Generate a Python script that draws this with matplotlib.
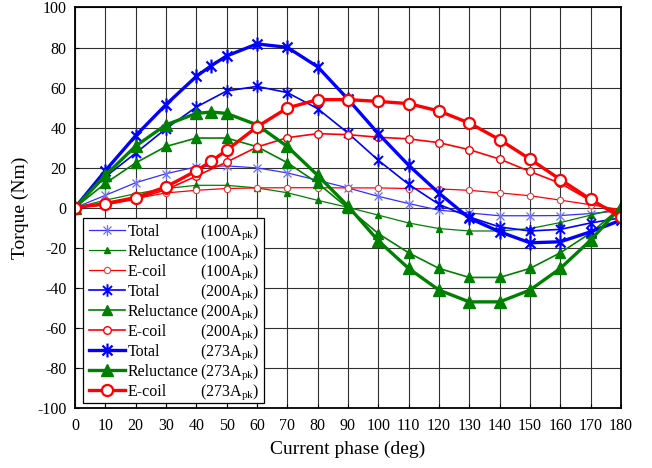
import matplotlib
matplotlib.use("Agg")
import matplotlib.pyplot as plt
from matplotlib.path import Path
from matplotlib.patches import Rectangle

plt.rcParams['font.family'] = ['Liberation Serif', 'DejaVu Serif']
plt.rcParams['mathtext.fontset'] = 'custom'
plt.rcParams['mathtext.rm'] = 'Liberation Serif'
plt.rcParams['mathtext.it'] = 'Liberation Serif:italic'
plt.rcParams['axes.unicode_minus'] = False

# current phase (deg)
phase = [0, 10, 20, 30, 40, 50, 60, 70, 80, 90, 100, 110, 120, 130, 140, 150, 160, 170, 180]
phase_273 = [0, 10, 20, 30, 40, 45, 50, 60, 70, 80, 90, 100, 110, 120, 130, 140, 150, 160, 170, 180]

# torque (Nm), 100 A peak
total_100 = [0, 6.2, 12.5, 17.0, 20.4, 20.9, 19.9, 17.4, 13.7, 9.9, 5.7, 2.1, -1.2, -2.6, -4.0, -4.0, -3.9, -2.9, -1.5]
rel_100 = [0, 3.8, 7.0, 9.6, 11.2, 11.2, 9.9, 7.5, 3.7, 0.2, -3.7, -7.6, -10.4, -11.6, -11.6, -10.4, -7.4, -3.7, 0]
ecoil_100 = [0, 1.5, 4.6, 7.4, 8.7, 9.6, 9.9, 10.0, 10.0, 9.9, 9.9, 9.6, 9.4, 8.7, 7.4, 6.0, 3.8, 1.5, -1.0]

# torque (Nm), 200 A peak
total_200 = [0, 15.4, 27.3, 39.5, 50.3, 58.3, 60.6, 57.5, 49.5, 37.3, 23.7, 11.7, 1.7, -4.6, -9.6, -11.6, -10.8, -7.6, -5.0]
rel_200 = [0, 12.2, 22.4, 30.6, 34.8, 34.8, 30.5, 22.5, 12.3, -0.2, -12.9, -22.5, -30.3, -34.8, -34.8, -30.3, -22.5, -12.6, 0.3]
ecoil_200 = [0, 1.5, 4.3, 9.0, 15.8, 22.8, 30.3, 35.0, 37.0, 36.5, 35.2, 34.4, 32.5, 29.0, 24.3, 18.1, 12.2, 3.5, -3.0]

# torque (Nm), 273 A peak
total_273 = [0, 18.5, 36.0, 51.5, 65.6, 71.0, 75.8, 81.8, 80.1, 70.4, 54.2, 37.0, 21.2, 7.3, -5.2, -12.0, -17.5, -17.0, -12.0, -6.2]
rel_273 = [0, 16.2, 30.8, 41.4, 47.1, 47.8, 47.1, 41.4, 30.6, 16.2, 0.8, -16.5, -30.3, -41.1, -47.0, -47.0, -41.1, -30.3, -16.2, 0.5]
ecoil_273 = [0, 2.1, 5.1, 10.4, 18.5, 23.3, 28.7, 40.4, 49.8, 54.0, 54.0, 53.1, 52.0, 48.3, 42.3, 34.0, 24.3, 14.1, 4.2, -4.8]

names = ['Total', 'Reluctance', 'E-coil'] * 3
currents = [r'(100A$_{\mathrm{pk}}$)'] * 3 + [r'(200A$_{\mathrm{pk}}$)'] * 3 + [r'(273A$_{\mathrm{pk}}$)'] * 3

# asterisk marker: vertical bar + X
ASTERISK = Path([(0, -1), (0, 1), (-0.72, -0.72), (0.72, 0.72), (-0.72, 0.72), (0.72, -0.72)],
                [Path.MOVETO, Path.LINETO] * 3)

BLUE, GREEN, RED = '#0000ff', '#008000', '#ff0000'
LEG_FS = 11.5

fig = plt.figure(figsize=(6.52, 4.68), dpi=100)
ax = fig.add_axes([0.1150, 0.1282, 0.8374, 0.8558])

series = [
    (phase, total_100, dict(color='#3030ff', lw=0.9, marker=ASTERISK, ms=8, mec='#7070f0', mew=0.9, mfc='none')),
    (phase, rel_100, dict(color=GREEN, lw=0.9, marker='^', ms=4.5, mec=GREEN, mfc=GREEN)),
    (phase, ecoil_100, dict(color=RED, lw=0.9, marker='o', ms=4.5, mec='#e04040', mew=0.8, mfc='white')),
    (phase, total_200, dict(color=BLUE, lw=1.2, marker=ASTERISK, ms=9, mec=BLUE, mew=1.4, mfc='none')),
    (phase, rel_200, dict(color=GREEN, lw=1.2, marker='^', ms=6.5, mec=GREEN, mfc=GREEN)),
    (phase, ecoil_200, dict(color=RED, lw=1.2, marker='o', ms=5.5, mec=RED, mew=1.0, mfc='white')),
    (phase_273, total_273, dict(color=BLUE, lw=2.4, marker=ASTERISK, ms=10, mec=BLUE, mew=1.6, mfc='none')),
    (phase_273, rel_273, dict(color=GREEN, lw=2.4, marker='^', ms=9, mec=GREEN, mfc=GREEN)),
    (phase_273, ecoil_273, dict(color=RED, lw=2.4, marker='o', ms=8, mec=RED, mew=1.6, mfc='white')),
]

handles = []
for x, y, style in series:
    line, = ax.plot(x, y, **style)
    handles.append(line)

ax.set_xlim(0, 180)
ax.set_ylim(-100, 100)
ax.set_xticks(range(0, 181, 10))
ax.set_yticks(range(-100, 101, 20))
ax.grid(True, color='#303030', lw=0.8)
ax.set_axisbelow(True)
ax.tick_params(axis='both', labelsize=11.5, direction='in', length=3, color='black')
ax.tick_params(axis='x', pad=7)
ax.tick_params(axis='y', pad=6)
for sp in ax.spines.values():
    sp.set_linewidth(1.3)
    sp.set_color('black')

ax.set_xlabel('Current phase (deg)', fontsize=14, labelpad=5)
ax.set_ylabel('Torque (Nm)', fontsize=14, labelpad=6)

# legend: names from ax.legend, frame and right-hand current column added by hand
box_left, box_top, box_right, box_bottom = 0.0147, 0.4744, 0.3462, 0.0125
frame = Rectangle((box_left, box_bottom), box_right - box_left, box_top - box_bottom,
                  transform=ax.transAxes, facecolor='white', edgecolor='black',
                  lw=0.9, zorder=4.5, clip_on=False)
ax.add_patch(frame)

leg = ax.legend(handles, names, loc='upper left', bbox_to_anchor=(box_left, box_top),
                borderaxespad=0, fontsize=LEG_FS, handlelength=2.3, handletextpad=0.15,
                labelspacing=0.25, borderpad=0.35, frameon=False)
leg.set_zorder(5)

fig.canvas.draw()
renderer = fig.canvas.get_renderer()
inv = ax.transAxes.inverted()
for txt, cur in zip(leg.get_texts(), currents):
    bb = txt.get_window_extent(renderer)
    _, _, descent = renderer.get_text_width_height_descent('lp', txt.get_fontproperties(), ismath=False)
    y_base = inv.transform((0, bb.y0 + descent))[1]
    ax.text(0.3375, y_base, cur, transform=ax.transAxes, ha='right', va='baseline',
            fontsize=LEG_FS, zorder=6)

fig.savefig('out.png', dpi=100)
